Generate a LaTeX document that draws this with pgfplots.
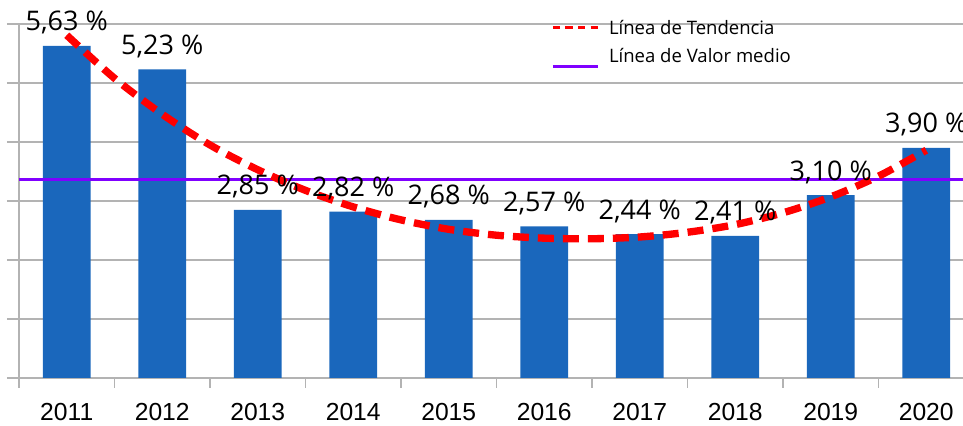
\documentclass[border=0pt]{standalone}
\usepackage{fontspec}
\setmainfont{Open Sans}
\newfontfamily\lib{Liberation Sans}
\usepackage{pgfplots}
\pgfplotsset{compat=1.18}
\definecolor{barblue}{RGB}{26,103,188}
\definecolor{meanpurple}{RGB}{128,0,255}
\definecolor{gridgray}{RGB}{179,179,179}
\begin{document}
\begin{tikzpicture}
\begin{axis}[
  name=ax,
  width=708pt, height=265.5pt, scale only axis,
  xmin=-0.5, xmax=9.385, ymin=0, ymax=6,
  axis lines=left,
  axis line style={gridgray, line width=0.9pt, -},
  xtick={0,...,9},
  xticklabels={2011,2012,2013,2014,2015,2016,2017,2018,2019,2020},
  minor xtick={-0.5,0.5,1.5,2.5,3.5,4.5,5.5,6.5,7.5,8.5},
  ytick={0,...,6}, yticklabels={},
  tick align=outside,
  major tick length=9pt, minor tick length=7.5pt,
  major x tick style={draw=none},
  minor x tick style={gridgray, line width=0.9pt},
  y tick style={gridgray, line width=0.9pt},
  ymajorgrids,
  major grid style={gridgray, line width=0.9pt},
  xticklabel style={font=\lib\fontsize{18.5pt}{20pt}\selectfont, anchor=base, yshift=-23pt, text=black},
  clip=false,
  reverse legend,
  legend cell align=left,
  legend style={at={(axis description cs:0.5635,1.0113)}, anchor=north west,
    draw=none, fill=none, inner sep=0pt, row sep=10.5pt, column sep=6.75pt,
    nodes={inner sep=0pt, text height=10.5pt, text depth=0pt},
    font=\fontsize{13.9pt}{16pt}\selectfont},
]
\addplot[ybar, bar width=0.5, fill=barblue, draw=none,
  nodes near coords={\pgfmathprintnumber[fixed, fixed zerofill, precision=2, use comma, assume math mode=true]{\pgfplotspointmeta}\ \%},
  every node near coord/.append style={font=\fontsize{20.25pt}{24pt}\selectfont, anchor=base, yshift=11.25pt, text=black},
  forget plot]
  coordinates {(0,5.63) (1,5.23) (2,2.85) (3,2.82) (4,2.68) (5,2.57) (6,2.44) (7,2.41) (8,3.10) (9,3.90)};
\addplot[meanpurple, line width=2.6pt,
  legend image code/.code={\path (0pt,0pt) (34pt,0pt); \draw[overlay, meanpurple, line width=2.25pt] (0pt,-8.5pt) -- (34pt,-8.5pt);}]
  coordinates {(-0.5,3.363) (9.385,3.363)};
\addlegendentry{Línea de Valor medio}
\addplot[red, line width=5.5pt, smooth, dash pattern=on 12pt off 6.75pt,
  legend image code/.code={\draw[red, line width=2.25pt, dash pattern=on 5.6pt off 3.8pt] (0pt,0pt) -- (34pt,0pt);}]
  coordinates {(0,5.81) (0.5,5.08) (1,4.47) (1.5,3.95) (2,3.53) (2.5,3.18) (3,2.90) (3.5,2.68) (4,2.52) (4.5,2.42) (5,2.37) (5.5,2.36) (6,2.39) (6.5,2.47) (7,2.60) (7.5,2.80) (8,3.07) (8.5,3.42) (9,3.86)};
\addlegendentry{Línea de Tendencia}
\end{axis}
\pgfresetboundingbox
\path[use as bounding box] ([xshift=-14.25pt,yshift=-36pt]ax.south west) rectangle ([yshift=18pt]ax.north east);
\end{tikzpicture}
\end{document}
